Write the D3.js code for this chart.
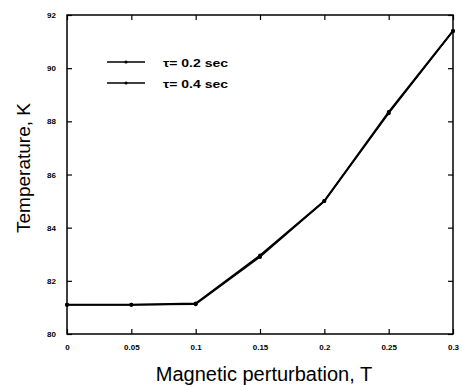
<!DOCTYPE html>
<html>
<head>
<meta charset="utf-8">
<script src="https://cdn.jsdelivr.net/npm/d3@7"></script>
<style>
  body { margin: 0; background: #fff; }
  svg { display: block; font-family: "Liberation Sans", Arial, sans-serif; }
</style>
</head>
<body>
<svg id="chart"></svg>
<script>
  const fields = [0, 0.05, 0.1, 0.15, 0.2, 0.25, 0.3];
  const temp02 = [81.1, 81.1, 81.15, 82.95, 85.0, 88.35, 91.4];
  const temp04 = [81.1, 81.1, 81.12, 82.9, 85.0, 88.3, 91.4];
  const seriesNames = ['\u03c4= 0.2 sec', '\u03c4= 0.4 sec'];
  const xTicks = [0, 0.05, 0.1, 0.15, 0.2, 0.25, 0.3];
  const yTicks = [80, 82, 84, 86, 88, 90, 92];

  const width = 462;
  const height = 386;
  const margin = { top: 15, right: 9, bottom: 52, left: 67 };
  const w = width - margin.left - margin.right;
  const h = height - margin.top - margin.bottom;

  const svg = d3.select('svg#chart')
    .attr('width', width)
    .attr('height', height);

  const g = svg.append('g')
    .attr('transform', `translate(${margin.left},${margin.top})`);

  const xScale = d3.scaleLinear().domain([0, 0.3]).range([0, w]);
  const yScale = d3.scaleLinear().domain([80, 92]).range([h, 0]);

  const styleAxis = (sel) => {
    sel.select('.domain').remove();
    sel.selectAll('line').attr('stroke', '#000').attr('stroke-width', 1.2);
    sel.selectAll('text')
      .attr('fill', '#000')
      .style('font-size', '8px')
      .style('font-weight', 'bold');
  };

  g.append('g')
    .attr('transform', `translate(0,${h})`)
    .call(d3.axisBottom(xScale).tickValues(xTicks).tickSize(-5).tickPadding(10)
      .tickFormat(d => d === 0 ? '0' : String(d)))
    .call(styleAxis);

  g.append('g')
    .call(d3.axisTop(xScale).tickValues(xTicks).tickSize(-5).tickFormat(''))
    .call(styleAxis);

  g.append('g')
    .call(d3.axisLeft(yScale).tickValues(yTicks).tickSize(-5).tickPadding(11))
    .call(styleAxis);

  g.append('g')
    .attr('transform', `translate(${w},0)`)
    .call(d3.axisRight(yScale).tickValues(yTicks).tickSize(-5).tickFormat(''))
    .call(styleAxis);

  g.append('rect')
    .attr('width', w)
    .attr('height', h)
    .attr('fill', 'none')
    .attr('stroke', '#000')
    .attr('stroke-width', 1.5);

  const line = d3.line()
    .x((d, i) => xScale(fields[i]))
    .y(d => yScale(d));

  [temp04, temp02].forEach((vals, k) => {
    g.append('path')
      .datum(vals)
      .attr('d', line)
      .attr('fill', 'none')
      .attr('stroke', '#000')
      .attr('stroke-width', k === 1 ? 2 : 1.6);

    g.selectAll(null)
      .data(vals)
      .enter()
      .append('circle')
      .attr('cx', (d, i) => xScale(fields[i]))
      .attr('cy', d => yScale(d))
      .attr('r', 2)
      .attr('fill', '#000');
  });

  // legend
  const legend = g.append('g').attr('transform', 'translate(40,47)');
  seriesNames.forEach((name, i) => {
    const row = legend.append('g').attr('transform', `translate(0,${i * 21})`);
    row.append('line')
      .attr('x1', 0).attr('x2', 38)
      .attr('stroke', '#000')
      .attr('stroke-width', 1.3);
    row.append('circle').attr('cx', 19).attr('r', 1.6).attr('fill', '#000');
    row.append('text')
      .attr('x', 56)
      .attr('y', 5)
      .attr('textLength', 65)
      .attr('lengthAdjust', 'spacingAndGlyphs')
      .style('font-size', '11px')
      .style('font-weight', 'bold')
      .text(name);
  });

  svg.append('text')
    .attr('x', 264)
    .attr('y', 381)
    .attr('text-anchor', 'middle')
    .style('font-size', '20px')
    .text('Magnetic perturbation, T');

  svg.append('text')
    .attr('transform', 'translate(30,168) rotate(-90)')
    .attr('text-anchor', 'middle')
    .style('font-size', '19px')
    .text('Temperature, K');
</script>
</body>
</html>
